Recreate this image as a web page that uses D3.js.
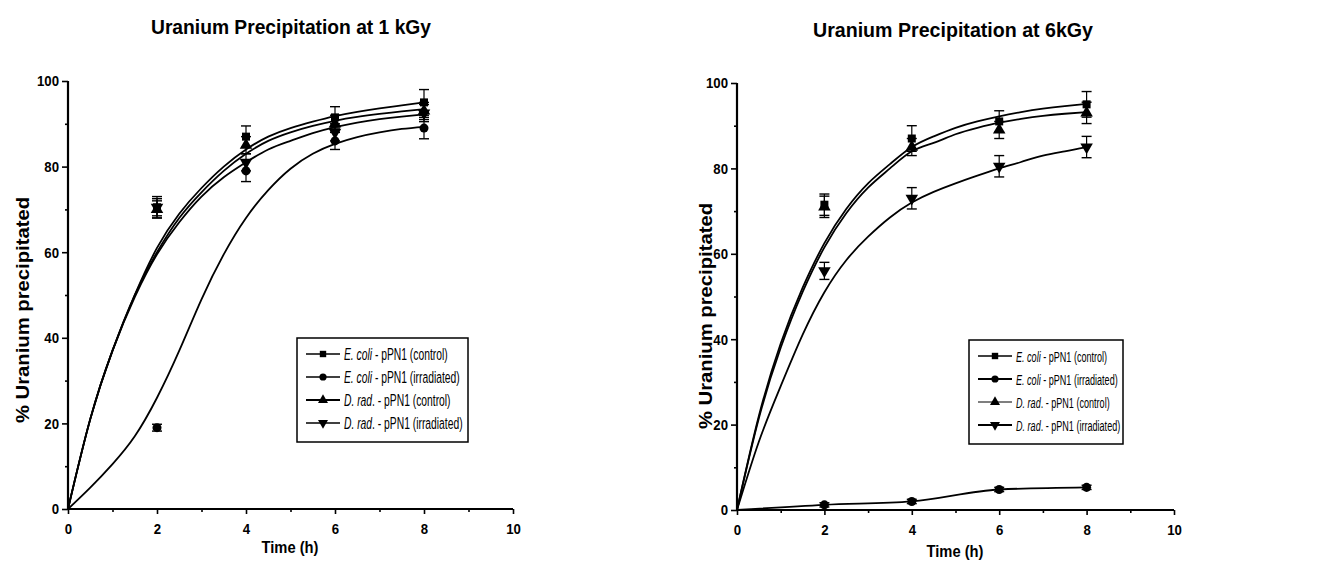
<!DOCTYPE html>
<html>
<head>
<meta charset="utf-8">
<script src="https://cdn.jsdelivr.net/npm/d3@7"></script>
<style>
  body { margin: 0; background: #fff; }
  svg { font-family: 'Liberation Sans', Arial, sans-serif; }
</style>
</head>
<body>
<svg id="chart" width="1330" height="573"></svg>
<script>
// measured time points (h)
const times = [2, 4, 6, 8];
// time grid for the fitted curves (every half hour)
const fitTimes = [0, 0.5, 1, 1.5, 2, 2.5, 3, 3.5, 4, 4.5, 5, 5.5, 6, 6.5, 7, 7.5, 8];

const xTicks = [0, 2, 4, 6, 8, 10];
const yTicks = [0, 20, 40, 60, 80, 100];

// --- 1 kGy ---
const ecoliCtrl1 = [70.5, 87, 91.5, 95];
const ecoliCtrl1Err = [2.5, 2.5, 2.5, 3];
const ecoliIrr1 = [19, 79, 86, 89];
const ecoliIrr1Err = [0.8, 2.5, 2, 2.5];
const dradCtrl1 = [70, 85, 90, 93];
const dradCtrl1Err = [2, 2, 2, 2];
const dradIrr1 = [70.5, 81, 88, 92.5];
const dradIrr1Err = [2, 2, 2, 2];

const ecoliCtrl1Fit = [0, 21, 37, 50, 61, 69, 75, 80, 84, 87, 89, 90.5, 91.8, 92.8, 93.6, 94.3, 95];
const ecoliIrr1Fit = [0, 5, 10.5, 17, 26, 37, 49, 59.5, 68, 74.5, 79.5, 83, 85.3, 86.9, 88, 88.8, 89.3];
const dradCtrl1Fit = [0, 21, 37, 50, 60, 68, 74, 79, 83, 86, 88, 89.5, 90.7, 91.6, 92.3, 92.9, 93.4];
const dradIrr1Fit = [0, 21, 37, 49.5, 59.5, 67, 73, 77.5, 81, 84, 86, 87.8, 89.2, 90.3, 91.1, 91.7, 92.2];

// --- 6 kGy ---
const ecoliCtrl6 = [71.5, 87, 91, 95];
const ecoliCtrl6Err = [2.5, 3, 2.5, 3];
const ecoliIrr6 = [1.2, 2, 4.8, 5.3];
const ecoliIrr6Err = [0.5, 0.5, 0.5, 0.5];
const dradCtrl6 = [71, 85, 89, 93];
const dradCtrl6Err = [2.5, 2, 2, 2.5];
const dradIrr6 = [56, 73, 80.5, 85];
const dradIrr6Err = [2, 2.5, 2.5, 2.5];

const ecoliCtrl6Fit = [0, 22, 39, 52, 62.5, 70.5, 76.5, 81, 85, 87.5, 89.5, 91, 92.2, 93.2, 94, 94.6, 95.1];
const dradCtrl6Fit = [0, 21.5, 38, 51, 61.5, 69.5, 75.5, 80, 84, 86, 88, 89.5, 90.7, 91.6, 92.3, 92.8, 93.2];
const dradIrr6Fit = [0, 16, 29, 41, 51, 58.5, 64, 68.5, 72, 74.5, 76.5, 78.3, 80, 81.5, 83, 84, 85];
// irradiated E. coli at 6 kGy is only joined point to point
const ecoliIrr6LineT = [0, 2, 4, 6, 8];
const ecoliIrr6LineV = [0, 1.2, 2, 4.8, 5.3];

const legendNames = [
  ['E. coli', ' - pPN1 (control)'],
  ['E. coli', ' - pPN1 (irradiated)'],
  ['D. rad', '. - pPN1 (control)'],
  ['D. rad', '. - pPN1 (irradiated)']
];
const symbols = ['square', 'circle', 'up', 'down'];

const svg = d3.select('#chart');

function symbolPath(kind) {
  if (kind === 'square') return d3.symbol(d3.symbolSquare, 64)();
  if (kind === 'circle') return d3.symbol(d3.symbolCircle, 64)();
  return d3.symbol(d3.symbolTriangle, 68)();
}

// squeeze a text to the width it has in the reference
function fitWidth(sel, w) {
  sel.attr('textLength', w).attr('lengthAdjust', 'spacingAndGlyphs');
}

function drawPanel(cfg) {
  const g = svg.append('g');
  const x = d3.scaleLinear().domain([0, 10]).range([cfg.left, cfg.right]);
  const y = d3.scaleLinear().domain([0, 100]).range([cfg.bottom, cfg.top]);

  g.append('text')
    .attr('x', cfg.titleX).attr('y', cfg.titleY)
    .attr('text-anchor', 'middle')
    .style('font-size', '20px').style('font-weight', 'bold')
    .text(cfg.title)
    .call(fitWidth, cfg.titleW);

  // axes
  const xAxis = g.append('g').attr('transform', `translate(0,${cfg.bottom})`)
    .call(d3.axisBottom(x).tickValues(xTicks).tickSize(5).tickPadding(9).tickFormat(d3.format('d')));
  g.append('g').attr('transform', `translate(0,${cfg.bottom})`)
    .call(d3.axisBottom(x).tickValues([1, 3, 5, 7, 9]).tickSize(3).tickFormat(''))
    .call(a => a.select('.domain').remove());
  const yAxis = g.append('g').attr('transform', `translate(${cfg.left},0)`)
    .call(d3.axisLeft(y).tickValues(yTicks).tickSize(6).tickPadding(3));
  g.append('g').attr('transform', `translate(${cfg.left},0)`)
    .call(d3.axisLeft(y).tickValues([10, 30, 50, 70, 90]).tickSize(3).tickFormat(''))
    .call(a => a.select('.domain').remove());

  g.selectAll('.domain').attr('stroke', '#000').attr('stroke-width', 2.2);
  g.selectAll('.tick line').attr('stroke', '#000').attr('stroke-width', 1.6);
  g.selectAll('.tick text')
    .attr('fill', '#000')
    .style('font-size', '15px').style('font-weight', 'bold')
    .style('font-family', "'Liberation Sans', Arial, sans-serif")
    .each(function () {
      const t = d3.select(this);
      t.call(fitWidth, this.getComputedTextLength() * 0.88);
    });
  xAxis.select('.domain').attr('d', `M${cfg.left},0H${cfg.right}`);
  yAxis.select('.domain').attr('d', `M0,${cfg.bottom}V${cfg.top}`);

  g.append('text')
    .attr('x', cfg.xLabelX).attr('y', cfg.xLabelY)
    .attr('text-anchor', 'middle')
    .style('font-size', '17px').style('font-weight', 'bold')
    .text('Time (h)')
    .call(fitWidth, 57);
  g.append('text')
    .attr('transform', `translate(${cfg.yLabelX},${cfg.yLabelY}) rotate(-90)`)
    .attr('text-anchor', 'middle')
    .style('font-size', '18px').style('font-weight', 'bold')
    .text('% Uranium precipitated')
    .call(fitWidth, 226);

  const line = d3.line()
    .x(d => x(d[0])).y(d => y(d[1]));

  cfg.curves.forEach(c => {
    g.append('path')
      .datum(c.t.map((t, i) => [t, c.v[i]]))
      .attr('d', c.straight ? line.curve(d3.curveMonotoneX) : line.curve(d3.curveNatural))
      .attr('fill', 'none')
      .attr('stroke', '#000')
      .attr('stroke-width', 1.8);
  });

  cfg.series.forEach(s => {
    const pts = times.map((t, i) => ({ t, v: s.v[i], e: s.e[i] }));
    const eb = g.append('g');
    pts.forEach(p => {
      const cx = x(p.t);
      eb.append('line').attr('x1', cx).attr('x2', cx)
        .attr('y1', y(p.v - p.e)).attr('y2', y(p.v + p.e))
        .attr('stroke', '#000').attr('stroke-width', 1.2);
      [p.v - p.e, p.v + p.e].forEach(v => {
        eb.append('line').attr('x1', cx - 5).attr('x2', cx + 5)
          .attr('y1', y(v)).attr('y2', y(v))
          .attr('stroke', '#000').attr('stroke-width', 1.4);
      });
    });
    g.selectAll(null).data(pts).enter().append('path')
      .attr('d', symbolPath(s.sym))
      .attr('transform', d => `translate(${x(d.t)},${y(d.v)})${s.sym === 'down' ? ' rotate(180)' : ''}`)
      .attr('fill', '#000');
  });

  // legend
  const lg = g.append('g').attr('transform', `translate(${cfg.legX},${cfg.legY})`);
  lg.append('rect').attr('width', cfg.legW).attr('height', 104)
    .attr('fill', '#fff').attr('stroke', '#000').attr('stroke-width', 1.5);
  legendNames.forEach((n, i) => {
    const ry = 16 + i * 23;
    lg.append('line').attr('x1', 9).attr('x2', 43).attr('y1', ry).attr('y2', ry)
      .attr('stroke', '#000').attr('stroke-width', cfg.legLineW[i]);
    lg.append('path').attr('d', symbolPath(symbols[i]))
      .attr('transform', `translate(26,${ry})${symbols[i] === 'down' ? ' rotate(180)' : ''} scale(0.8)`)
      .attr('fill', '#000');
    const t = lg.append('text')
      .attr('transform', `translate(47,${ry + 5.5}) scale(${cfg.legScale},1)`)
      .style('font-size', cfg.legFont + 'px');
    t.append('tspan').style('font-style', 'italic').text(n[0]);
    t.append('tspan').text(n[1]);
  });
}

drawPanel({
  title: 'Uranium Precipitation at 1 kGy', titleX: 291, titleY: 34, titleW: 280,
  left: 68, right: 513, top: 81, bottom: 509,
  xLabelX: 290, xLabelY: 553, yLabelX: 29, yLabelY: 310,
  legX: 297, legY: 338, legW: 171, legLineW: [1.5, 1.5, 2, 1.5],
  legFont: 16.5, legScale: 0.625,
  series: [
    { v: ecoliCtrl1, e: ecoliCtrl1Err, sym: 'square' },
    { v: ecoliIrr1, e: ecoliIrr1Err, sym: 'circle' },
    { v: dradCtrl1, e: dradCtrl1Err, sym: 'up' },
    { v: dradIrr1, e: dradIrr1Err, sym: 'down' }
  ],
  curves: [
    { t: fitTimes, v: ecoliCtrl1Fit },
    { t: fitTimes, v: ecoliIrr1Fit },
    { t: fitTimes, v: dradCtrl1Fit },
    { t: fitTimes, v: dradIrr1Fit }
  ]
});

drawPanel({
  title: 'Uranium Precipitation at 6kGy', titleX: 953, titleY: 37, titleW: 280,
  left: 737, right: 1174, top: 83, bottom: 510,
  xLabelX: 955, xLabelY: 557, yLabelX: 712, yLabelY: 316,
  legX: 969, legY: 340, legW: 154, legLineW: [1.5, 2, 1.2, 2],
  legFont: 15.5, legScale: 0.585,
  series: [
    { v: ecoliCtrl6, e: ecoliCtrl6Err, sym: 'square' },
    { v: ecoliIrr6, e: ecoliIrr6Err, sym: 'circle' },
    { v: dradCtrl6, e: dradCtrl6Err, sym: 'up' },
    { v: dradIrr6, e: dradIrr6Err, sym: 'down' }
  ],
  curves: [
    { t: fitTimes, v: ecoliCtrl6Fit },
    { t: fitTimes, v: dradCtrl6Fit },
    { t: fitTimes, v: dradIrr6Fit },
    { t: ecoliIrr6LineT, v: ecoliIrr6LineV, straight: true }
  ]
});
</script>
</body>
</html>
